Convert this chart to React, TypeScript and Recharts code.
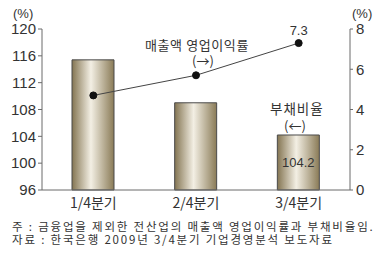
import { ComposedChart, Bar, Line, XAxis, YAxis, LabelList } from 'recharts';

const quarters = ['1/4분기', '2/4분기', '3/4분기'];
const debtRatio = [115.4, 109.0, 104.2];
const opMargin = [4.7, 5.7, 7.3];
const leftTicks = [96, 100, 104, 108, 112, 116, 120];
const rightTicks = [0, 2, 4, 6, 8];

const data = quarters.map((q, i) => ({ q, debt: debtRatio[i], margin: opMargin[i] }));

const FONT = '"Liberation Sans", Arial, sans-serif';
const KFONT = '"Noto Sans CJK KR", "Liberation Sans", sans-serif';
const AXIS = '#6b6b6b';
const TEXT = '#333';

export default function App() {
  return (
    <div style={{ position: 'absolute', left: 0, top: 0, width: 388, height: 255, background: '#fff', fontFamily: KFONT }}>
      <ComposedChart
        width={388}
        height={215}
        data={data}
        margin={{ top: 29, right: 0, bottom: 0, left: 0 }}
      >
        <defs>
          <linearGradient id="barGrad" x1="0" y1="0" x2="1" y2="0">
            <stop offset="0%" stopColor="#847552" />
            <stop offset="45%" stopColor="#f3efe4" />
            <stop offset="100%" stopColor="#8a7b57" />
          </linearGradient>
        </defs>
        <XAxis
          dataKey="q"
          height={25}
          tickLine={false}
          axisLine={{ stroke: AXIS }}
          tick={{ fill: TEXT, fontSize: 14, fontFamily: KFONT }}
          tickMargin={2}
        />
        <YAxis
          yAxisId="left"
          width={42}
          domain={[96, 120]}
          ticks={leftTicks}
          interval={0}
          axisLine={{ stroke: AXIS }}
          tickLine={{ stroke: AXIS }}
          tickSize={4}
          tickMargin={2}
          tick={{ fill: TEXT, fontSize: 15, fontFamily: FONT }}
        />
        <YAxis
          yAxisId="right"
          orientation="right"
          width={38}
          domain={[0, 8]}
          ticks={rightTicks}
          interval={0}
          axisLine={{ stroke: AXIS }}
          tickLine={{ stroke: AXIS }}
          tickSize={3}
          tickMargin={3}
          tick={{ fill: TEXT, fontSize: 15, fontFamily: FONT }}
        />
        <Bar
          yAxisId="left"
          dataKey="debt"
          barSize={42}
          fill="url(#barGrad)"
          stroke="#4a4a4a"
          strokeWidth={1}
          isAnimationActive={false}
        >
          <LabelList
            dataKey="debt"
            content={(p: any) =>
              p.index === 2 ? (
                <text x={p.x + p.width / 2} y={p.y + 32} textAnchor="middle" fill={TEXT} fontSize={13} fontFamily={FONT}>
                  {p.value}
                </text>
              ) : null
            }
          />
        </Bar>
        <Line
          yAxisId="right"
          dataKey="margin"
          stroke="#444"
          strokeWidth={1}
          dot={{ r: 3.5, fill: '#111', stroke: '#111' }}
          isAnimationActive={false}
        >
          <LabelList
            dataKey="margin"
            content={(p: any) =>
              p.index === 2 ? (
                <text x={p.x} y={p.y - 8} textAnchor="middle" fill={TEXT} fontSize={13} fontFamily={FONT}>
                  {p.value}
                </text>
              ) : null
            }
          />
        </Line>
      </ComposedChart>
      <div style={{ position: 'absolute', left: 13, top: 6, fontSize: 13, lineHeight: '15px', color: TEXT, fontFamily: FONT }}>(%)</div>
      <div style={{ position: 'absolute', left: 352, top: 6, fontSize: 13, lineHeight: '15px', color: TEXT, fontFamily: FONT }}>(%)</div>
      <div style={{ position: 'absolute', left: 145, top: 37, fontSize: 13, lineHeight: '16px', color: TEXT, letterSpacing: 0.6 }}>매출액 영업이익률</div>
      <div style={{ position: 'absolute', left: 192, top: 53, fontSize: 13, lineHeight: '15px', color: TEXT }}>(→)</div>
      <div style={{ position: 'absolute', left: 270, top: 100, fontSize: 13.5, lineHeight: '16px', color: TEXT, letterSpacing: 1 }}>부채비율</div>
      <div style={{ position: 'absolute', left: 284, top: 118, fontSize: 13, lineHeight: '15px', color: TEXT }}>(←)</div>
      <div style={{ position: 'absolute', left: 12, top: 220, fontSize: 11.5, color: TEXT, lineHeight: '13px', letterSpacing: 1.8, whiteSpace: 'nowrap' }}>
        주 : 금융업을 제외한 전산업의 매출액 영업이익률과 부채비율임.
        <br />
        자료 : 한국은행 2009년 3/4분기 기업경영분석 보도자료
      </div>
    </div>
  );
}
